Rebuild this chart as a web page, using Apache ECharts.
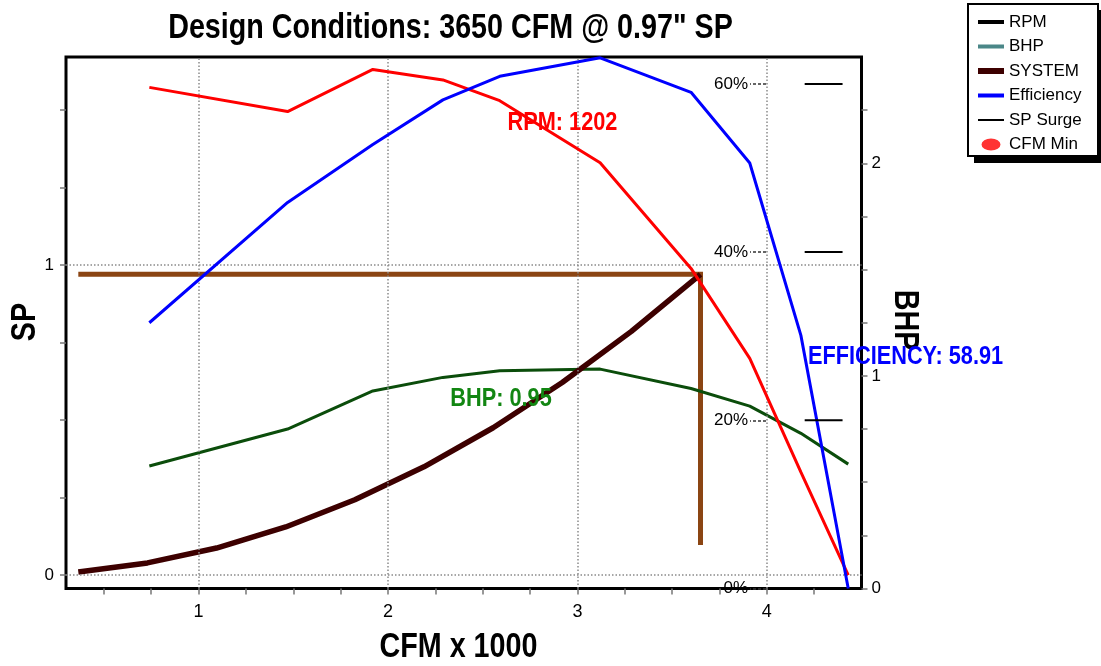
<!DOCTYPE html>
<html><head><meta charset="utf-8">
<script src="https://cdn.jsdelivr.net/npm/echarts/dist/echarts.min.js"></script>
<style>html,body{margin:0;padding:0;background:#fff}#c{width:1101px;height:666px}</style>
</head><body><div id="c"></div>
<script>
// ---- data ----
const fanCFM      = [0.74, 1.47, 1.92, 2.29, 2.59, 3.12, 3.60, 3.91, 4.18, 4.43]; // CFM x 1000
const rpmSP       = [1.573, 1.495, 1.631, 1.597, 1.530, 1.330, 0.989, 0.699, 0.332, 0.0];
const bhpValues   = [0.576, 0.750, 0.929, 0.993, 1.024, 1.032, 0.941, 0.858, 0.730, 0.585];
const effValues   = [31.6, 45.9, 52.8, 58.1, 60.9, 63.1, 59.0, 50.6, 30.1, 0];
const systemCFM   = [0.365, 0.73, 1.095, 1.46, 1.825, 2.19, 2.555, 2.92, 3.285, 3.65];
const systemSP    = [0.010, 0.039, 0.087, 0.155, 0.243, 0.349, 0.475, 0.621, 0.786, 0.97];
const designCFM   = [0.365, 3.65, 3.65];
const designSP    = [0.97, 0.97, 0.097];
const surgeCFM    = [4.2, 4.4];
const surgeEff    = [20, 40, 60];
// ticks / labels
const xTicks      = [0.5, 0.75, 1, 1.25, 1.5, 1.75, 2, 2.25, 2.5, 2.75, 3, 3.25, 3.5, 3.75, 4, 4.25];
const xLabels     = [1, 2, 3, 4];
const spTicks     = [0, 0.25, 0.5, 0.75, 1, 1.25, 1.5];
const spLabels    = [0, 1];
const bhpTicks    = [0, 0.25, 0.5, 0.75, 1, 1.25, 1.5, 1.75, 2, 2.25];
const bhpLabels   = [0, 1, 2];
const effTicks    = [0, 20, 40, 60];
const gridX       = [1, 2, 3, 4];
const gridY       = [0, 1];
// texts
const titleText   = 'Design Conditions: 3650 CFM @ 0.97" SP';
const xName       = 'CFM x 1000';
const spName      = 'SP';
const bhpName     = 'BHP';
const rpmLabel    = 'RPM: 1202';
const bhpLabel    = 'BHP: 0.95';
const effLabel    = 'EFFICIENCY: 58.91';

const SANS = '"Liberation Sans", Arial, sans-serif';
const zip = (xs, ys) => xs.map((x, i) => [x, ys[i]]);

const surgeData = [];
surgeEff.forEach((e, i) => {
  if (i) surgeData.push(['-', '-']);
  surgeCFM.forEach(x => surgeData.push([x, e]));
});

const bbox = 'M0,0h0.01v0.01h-0.01z M25.99,17.99h0.01v0.01h-0.01z ';
const lineIcon = w => 'path://' + bbox + 'M0,' + (9 - w / 2) + 'h26v' + w + 'h-26z';
const dotIcon = 'path://' + bbox + 'M3.5,9 A9.5,6 0 1 0 22.5,9 A9.5,6 0 1 0 3.5,9 Z';

// condensed bold text (horizontally squeezed Liberation Sans Bold)
const narrowText = (text, x, y, size, color, rotation) => ({
  type: 'text', x: x, y: y, scaleX: 0.82, rotation: rotation || 0, z: 100,
  style: {text: text, fill: color, font: 'bold ' + size + 'px ' + SANS,
          align: 'center', verticalAlign: 'middle', textAlign: 'center', textVerticalAlign: 'middle'}
});

const axisTickStyle = {color: '#777', width: 1.5};

const chart = echarts.init(document.getElementById('c'), null, {renderer: 'canvas'});
chart.setOption({
  backgroundColor: '#fff',
  animation: false,
  legend: {
    orient: 'vertical', left: 967, top: 4, z: 10,
    padding: [9, 14, 5, 11], itemGap: 6.5, itemWidth: 26, itemHeight: 18,
    textStyle: {fontFamily: SANS, fontSize: 17, color: '#000'},
    selectedMode: false,
    data: [
      {name: 'RPM', icon: lineIcon(4), itemStyle: {color: '#000'}},
      {name: 'BHP', icon: lineIcon(4), itemStyle: {color: '#4b8788'}},
      {name: 'SYSTEM', icon: lineIcon(6), itemStyle: {color: '#3d0000'}},
      {name: 'Efficiency', icon: lineIcon(4), itemStyle: {color: '#0000ff'}},
      {name: 'SP Surge', icon: lineIcon(2), itemStyle: {color: '#000'}},
      {name: 'CFM Min', icon: dotIcon, itemStyle: {color: '#ff0000'}}
    ]
  },
  grid: {left: 66, top: 57, width: 795.5, height: 531.5, show: true,
         containLabel: false, outerBoundsMode: 'none',
         borderColor: '#000', borderWidth: 3, backgroundColor: '#fff'},
  xAxis: {
    type: 'value', min: 0.3, max: 4.5, position: 'bottom',
    axisLine: {show: false, onZero: false},
    axisTick: {show: true, length: 6, customValues: xTicks, lineStyle: axisTickStyle},
    axisLabel: {margin: 15, fontFamily: SANS, fontSize: 18, color: '#000', customValues: xLabels},
    splitLine: {show: false}
  },
  yAxis: [
    {
      type: 'value', min: -0.0435, max: 1.671, position: 'left',
      axisLine: {show: false, onZero: false},
      axisTick: {show: true, length: 6, customValues: spTicks, lineStyle: axisTickStyle},
      axisLabel: {margin: 12, fontFamily: SANS, fontSize: 17, color: '#000', customValues: spLabels},
      splitLine: {show: false}
    },
    {
      type: 'value', min: 0, max: 2.5, position: 'right',
      axisLine: {show: false, onZero: false},
      axisTick: {show: true, length: 6, customValues: bhpTicks, lineStyle: axisTickStyle},
      axisLabel: {margin: 10, fontFamily: SANS, fontSize: 17, color: '#000', customValues: bhpLabels},
      splitLine: {show: false}
    },
    {
      type: 'value', min: 0, max: 63.2, position: 'right', offset: -95.5,
      axisLine: {show: false, onZero: false},
      axisTick: {show: true, inside: true, length: 16, customValues: effTicks,
                 lineStyle: {color: '#333', width: 1.5, type: [3, 2]}},
      axisLabel: {inside: true, margin: 18, fontFamily: SANS, fontSize: 17, color: '#000',
                  customValues: effTicks, formatter: v => Math.round(v) + '%'},
      splitLine: {show: false}
    }
  ],
  graphic: [
    // legend frame with offset black shadow
    {type: 'rect', z: 0, shape: {x: 974, y: 10, width: 132, height: 153}, style: {fill: '#000'}},
    {type: 'rect', z: 1, shape: {x: 968, y: 4, width: 130, height: 152},
     style: {fill: '#fff', stroke: '#000', lineWidth: 2}},
    narrowText(titleText, 450.5, 28, 35, '#000'),
    narrowText(xName, 458.5, 647, 35, '#000'),
    narrowText(spName, 25, 322, 35, '#000', Math.PI / 2),
    narrowText(bhpName, 905, 320, 35, '#000', -Math.PI / 2),
    narrowText(rpmLabel, 562.5, 122.5, 26.5, '#ff0000'),
    narrowText(bhpLabel, 501, 399, 26.5, '#128612'),
    narrowText(effLabel, 905.5, 356.5, 26.5, '#0000ff')
  ],
  series: [
    {
      name: 'Design', type: 'line', xAxisIndex: 0, yAxisIndex: 0, z: 2,
      data: zip(designCFM, designSP), symbol: 'none',
      lineStyle: {color: '#8b4513', width: 5, cap: 'butt', join: 'miter'},
      markLine: {
        silent: true, symbol: 'none', label: {show: false}, animation: false,
        lineStyle: {color: '#8a8a8a', width: 1.5, type: [1.5, 2]},
        data: gridX.map(v => ({xAxis: v})).concat(gridY.map(v => ({yAxis: v})))
      }
    },
    {name: 'BHP', type: 'line', xAxisIndex: 0, yAxisIndex: 1, z: 3,
     data: zip(fanCFM, bhpValues), symbol: 'none',
     lineStyle: {color: '#0b4d0b', width: 3}},
    {name: 'SYSTEM', type: 'line', xAxisIndex: 0, yAxisIndex: 0, z: 4,
     data: zip(systemCFM, systemSP), symbol: 'none',
     lineStyle: {color: '#3d0000', width: 5.5}},
    {name: 'RPM', type: 'line', xAxisIndex: 0, yAxisIndex: 0, z: 5,
     data: zip(fanCFM, rpmSP), symbol: 'none',
     lineStyle: {color: '#ff0000', width: 3}},
    {name: 'Efficiency', type: 'line', xAxisIndex: 0, yAxisIndex: 2, z: 6,
     data: zip(fanCFM, effValues), symbol: 'none',
     lineStyle: {color: '#0000ff', width: 3}},
    {name: 'SP Surge', type: 'line', xAxisIndex: 0, yAxisIndex: 2, z: 6,
     data: surgeData, symbol: 'none', connectNulls: false,
     lineStyle: {color: '#000', width: 2}},
    {name: 'CFM Min', type: 'scatter', xAxisIndex: 0, yAxisIndex: 0,
     data: [], itemStyle: {color: '#ff0000'}}
  ]
});
</script></body></html>
